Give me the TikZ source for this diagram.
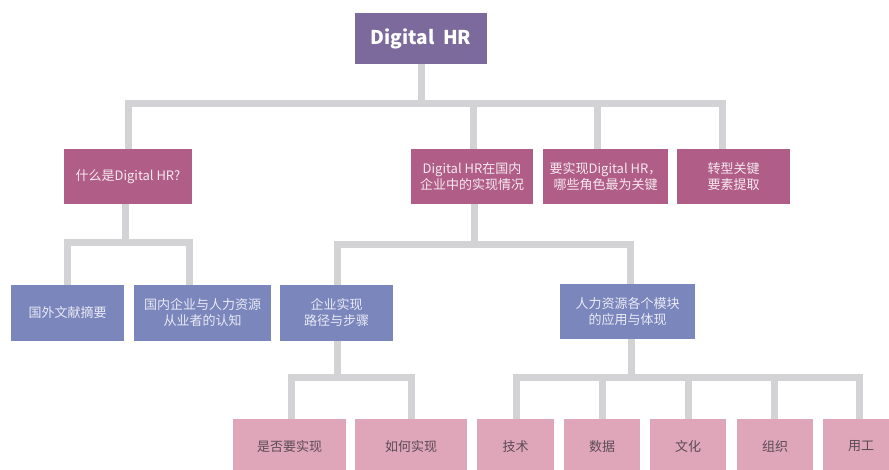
\documentclass[tikz,border=0pt]{standalone}
\usepackage{fontspec}
\setmainfont{Noto Sans CJK SC}
\usetikzlibrary{backgrounds}
\definecolor{rootc}{HTML}{7B6A9B}
\definecolor{magc}{HTML}{B05E88}
\definecolor{bluec}{HTML}{7B86BC}
\definecolor{pinkc}{HTML}{DFA6BA}
\definecolor{linec}{HTML}{D3D3D5}
\definecolor{magtext}{HTML}{F5E8EF}
\definecolor{bluetext}{HTML}{E8EAF4}
\definecolor{pinktext}{HTML}{5B4B55}
\begin{document}
\begin{tikzpicture}[x=1pt,y=-1pt,
  boxbase/.style={inner sep=0pt, align=center, font=\fontsize{13}{16}\selectfont},
  rootbox/.style={boxbase, fill=rootc, text=white, minimum width=132pt, minimum height=51pt, font=\fontsize{19}{22}\selectfont\bfseries},
  magbox/.style={boxbase, fill=magc, text=magtext, minimum height=55pt},
  bluebox/.style={boxbase, fill=bluec, text=bluetext, minimum height=56pt},
  pinkbox/.style={boxbase, fill=pinkc, text=pinktext, minimum height=55pt},
  conn/.style={draw=linec, line width=7pt, line join=miter}]
\clip (0,0) rectangle (889,470);
% boxes
\node[rootbox] (root) at (421,38.5) {Digital\ \ HR};
\node[magbox, minimum width=128pt] (a) at (128,176.5) {什么是Digital HR?};
\node[magbox, minimum width=122pt] (b) at (472,176.5) {Digital HR在国内\\企业中的实现情况};
\node[magbox, minimum width=125pt] (c) at (605.5,176.5) {要实现Digital HR，\\哪些角色最为关键};
\node[magbox, minimum width=113pt] (d) at (733.5,176.5) {转型关键\\要素提取};
\node[bluebox, minimum width=113pt] (e) at (67.5,313) {国外文献摘要};
\node[bluebox, minimum width=137pt] (f) at (202.5,313) {国内企业与人力资源\\从业者的认知};
\node[bluebox, minimum width=113pt] (g) at (336.5,313) {企业实现\\路径与步骤};
\node[bluebox, minimum width=135pt, minimum height=55pt] (h) at (627.5,311.5) {人力资源各个模块\\的应用与体现};
\node[pinkbox, minimum width=113pt] (i) at (289.5,446.5) {是否要实现};
\node[pinkbox, minimum width=112pt] (j) at (411,446.5) {如何实现};
\node[pinkbox, minimum width=77pt] (k) at (515.5,446.5) {技术};
\node[pinkbox, minimum width=76pt] (l) at (602,446.5) {数据};
\node[pinkbox, minimum width=76pt] (m) at (688,446.5) {文化};
\node[pinkbox, minimum width=76pt] (n) at (775,446.5) {组织};
\node[pinkbox, minimum width=76pt] (o) at (861,446.5) {用工};
\coordinate (bus1) at (421,104);
\coordinate (bus2) at (125,243);
\coordinate (bus3) at (474,245);
\coordinate (bus4) at (337,377);
\coordinate (bus5) at (631,377);
% connectors behind the boxes
\begin{pgfonlayer}{background}
\fill[white] (0,0) rectangle (889,470);
\path[conn] (root.south) -- (bus1);
\path[conn] (a.north) |- (bus1) -| ([xshift=46pt]d.north west);
\path[conn] ([xshift=63pt]b.north west) -- ([xshift=63pt]b.north west |- bus1);
\path[conn] ([xshift=55pt]c.north west) -- ([xshift=55pt]c.north west |- bus1);
\path[conn] (a.south -| bus2) -- (bus2);
\path[conn] (e.north) |- (bus2) -| ([xshift=56pt]f.north west);
\path[conn] (b.south -| bus3) -- (bus3);
\path[conn] ([xshift=58pt]g.north west) |- (bus3) -| ([xshift=71pt]h.north west);
\path[conn] (g.south -| bus4) -- (bus4);
\path[conn] ([xshift=59pt]i.north west) |- (bus4) -| ([xshift=57pt]j.north west);
\path[conn] (h.south -| bus5) -- (bus5);
\path[conn] ([xshift=40pt]k.north west) |- (bus5) -| ([xshift=37pt]o.north west);
\path[conn] (l.north) -- (l.north |- bus5);
\path[conn] (m.north) -- (m.north |- bus5);
\path[conn] ([xshift=-1pt]n.north) -- ([xshift=-1pt]n.north |- bus5);
\end{pgfonlayer}
\end{tikzpicture}
\end{document}
